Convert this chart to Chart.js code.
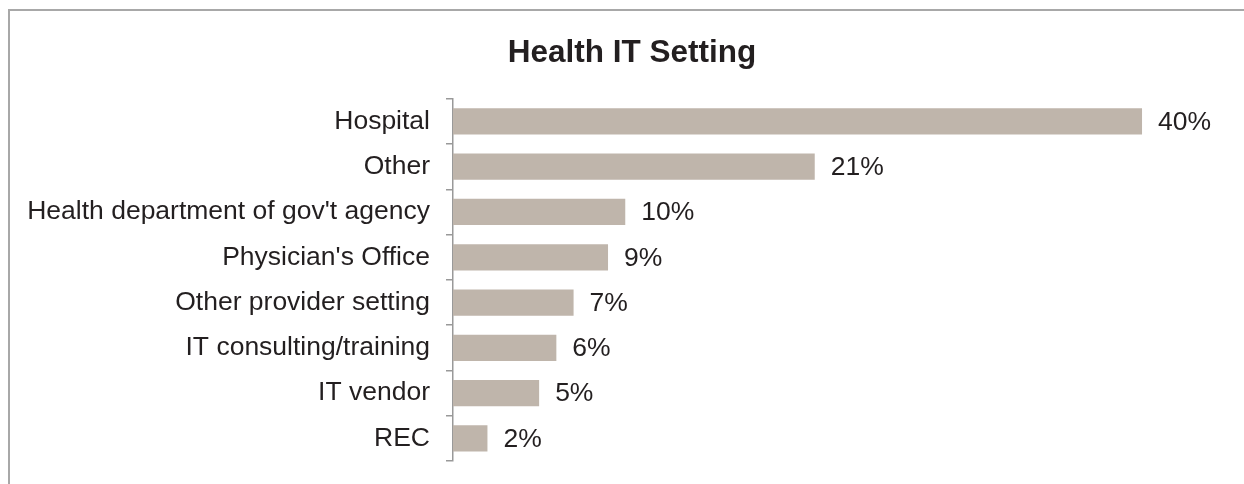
<!DOCTYPE html>
<html>
<head>
<meta charset="utf-8">
<script src="https://cdn.jsdelivr.net/npm/chart.js@4.4.1/dist/chart.umd.min.js"></script>
<style>
  html, body { margin: 0; padding: 0; background: #fff; overflow: hidden; width: 1244px; height: 484px; }
  #frame { position: absolute; left: 8px; top: 9px; width: 1244px; height: 473px;
           border-top: 2px solid #a8a8a8; border-left: 2px solid #a8a8a8; }
  canvas { display: block; }
</style>
</head>
<body>
<div id="frame"><canvas id="c" width="1244" height="473"></canvas></div>
<script>
const chartTitle = "Health IT Setting";
const categories = ["Hospital", "Other", "Health department of gov't agency", "Physician's Office",
                    "Other provider setting", "IT consulting/training", "IT vendor", "REC"];
const values = [40, 21, 10, 9, 7, 6, 5, 2];
const valueLabels = ["40%", "21%", "10%", "9%", "7%", "6%", "5%", "2%"];
const xAxisMin = 0;
const xAxisMax = 46.5;

const FONT = "'Liberation Sans', Arial, sans-serif";

const valueLabelPlugin = {
  id: 'valueLabels',
  afterDatasetsDraw(chart) {
    const ctx = chart.ctx;
    const meta = chart.getDatasetMeta(0);
    ctx.save();
    ctx.font = "26.5px " + FONT;
    ctx.fillStyle = "#231f20";
    ctx.textAlign = "left";
    ctx.textBaseline = "middle";
    meta.data.forEach((bar, i) => {
      ctx.fillText(valueLabels[i], bar.x + 16, bar.y + 1);
    });
    ctx.restore();
  }
};

new Chart(document.getElementById('c'), {
  type: 'bar',
  data: {
    labels: categories,
    datasets: [{
      data: values,
      backgroundColor: '#bfb5ab',
      borderWidth: 0,
      barPercentage: 0.58,
      categoryPercentage: 1.0
    }]
  },
  options: {
    indexAxis: 'y',
    responsive: false,
    animation: false,
    devicePixelRatio: 1,
    layout: { padding: { left: 0, right: 0, top: 0, bottom: 23 } },
    plugins: {
      legend: { display: false },
      tooltip: { enabled: false },
      title: {
        display: true,
        text: chartTitle,
        color: '#231f20',
        font: { family: FONT, size: 31.5, weight: 'bold' },
        padding: { top: 23, bottom: 27 }
      }
    },
    scales: {
      x: { display: false, min: xAxisMin, max: xAxisMax },
      y: {
        afterFit(scale) { scale.width = 443; scale.paddingTop = 0; scale.paddingBottom = 0; },
        grid: {
          display: true,
          drawOnChartArea: false,
          drawTicks: true,
          tickLength: 7,
          color: '#999999',
          lineWidth: 1.5,
          offset: true
        },
        border: { display: true, color: '#999999', width: 1.5 },
        ticks: {
          color: '#231f20',
          padding: 16,
          font: { family: FONT, size: 26.5 }
        }
      }
    }
  },
  plugins: [valueLabelPlugin]
});
</script>
</body>
</html>
